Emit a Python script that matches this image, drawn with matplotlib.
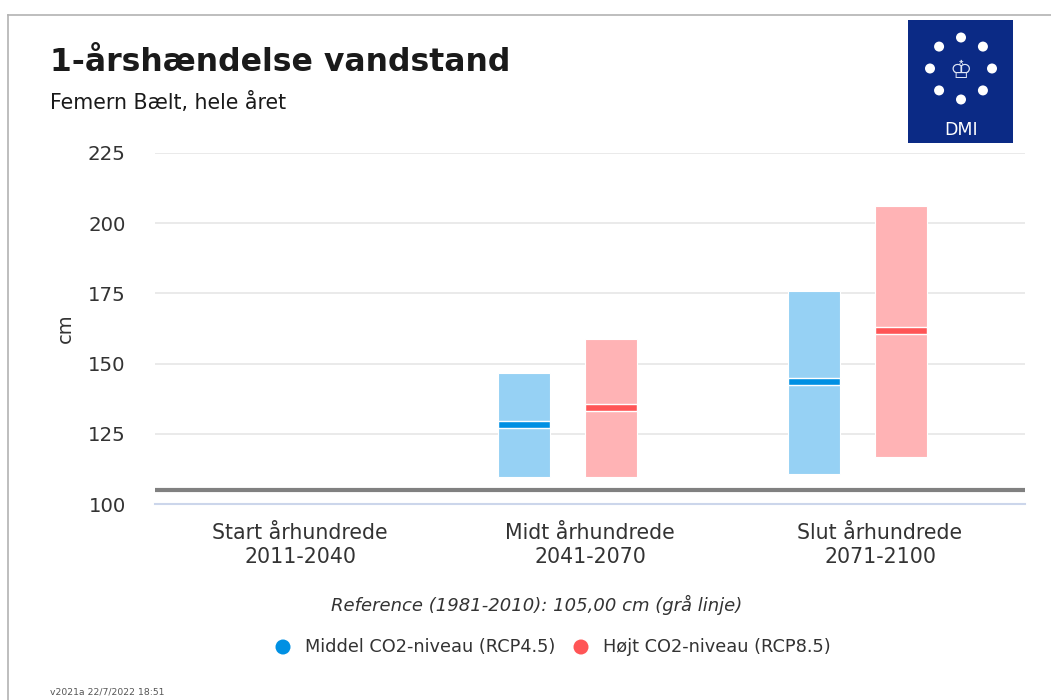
import matplotlib
matplotlib.use("Agg")
import matplotlib.pyplot as plt
import numpy as np
from matplotlib.patches import Rectangle, Circle

plt.rcParams['font.family'] = ['DejaVu Sans']

# ---- data ----
categories = ["Start århundrede\n2011-2040", "Midt århundrede\n2041-2070", "Slut århundrede\n2071-2100"]
rcp45_low = [np.nan, 109.6, 110.7]
rcp45_high = [np.nan, 146.8, 176.0]
rcp45_median = [np.nan, 128.4, 143.6]
rcp85_low = [np.nan, 109.6, 116.8]
rcp85_high = [np.nan, 158.9, 206.0]
rcp85_median = [np.nan, 134.3, 161.8]
reference_level = 105.0
y_ticks = [100, 125, 150, 175, 200, 225]
series_names = ["Middel CO2-niveau (RCP4.5)", "Højt CO2-niveau (RCP8.5)"]

W, H = 1051, 700
fig = plt.figure(figsize=(W / 100, H / 100), dpi=100)
fig.patch.set_facecolor("white")

# overlay in pixel coordinates
ov = fig.add_axes([0, 0, 1, 1], zorder=0)
ov.set_xlim(0, W)
ov.set_ylim(H, 0)
ov.axis("off")

# border
ov.plot([7.5, W], [14.5, 14.5], color="#b3b3b3", lw=1.2)
ov.plot([7.5, 7.5], [14.5, H], color="#b3b3b3", lw=1.2)

# titles
ov.text(50, 71, "1-årshændelse vandstand", fontsize=22.7, fontweight="bold",
        color="#1a1a1a", va="baseline", ha="left")
ov.text(50, 109, "Femern Bælt, hele året", fontsize=14.8, color="#1a1a1a",
        va="baseline", ha="left")

# logo
ov.add_patch(Rectangle((908, 20), 105, 123, facecolor="#0b2a85", edgecolor="none"))
cx, cy, r = 961, 68.5, 31
for k in range(8):
    a = np.pi / 2 + k * np.pi / 4
    ov.add_patch(Circle((cx + r * np.cos(a), cy - r * np.sin(a)), 5,
                        facecolor="white", edgecolor="none"))
ov.text(cx, cy + 2, "♔", fontsize=18, color="#dfe6f5", ha="center", va="center")
ov.text(cx, 130, "DMI", fontsize=12.5, color="white", ha="center", va="center")

# main axes
left, right, top, bottom = 155, 1025, 153, 504
ax = fig.add_axes([left / W, 1 - bottom / H, (right - left) / W, (bottom - top) / H], zorder=1)
ax.set_facecolor("none")
ax.set_xlim(-0.5, 2.5)
ax.set_ylim(100, 225)
ax.set_yticks(y_ticks)
ax.set_yticklabels([str(v) for v in y_ticks], fontsize=14.2, color="#333333")
ax.set_xticks(range(len(categories)))
ax.set_xticklabels(categories, fontsize=14.8, color="#333333", linespacing=1.25)
ax.tick_params(axis="both", length=0)
ax.tick_params(axis="y", pad=21)
ax.tick_params(axis="x", pad=14)
for s in ax.spines.values():
    s.set_visible(False)
for v in y_ticks[1:]:
    ax.axhline(v, color="#e6e6e6", lw=1.2, zorder=0)
ax.axhline(100, color="#ccd6eb", lw=1.5, zorder=1, clip_on=False)
ax.set_ylabel("cm", fontsize=14, color="#333333")
ax.yaxis.set_label_coords(-0.092, 0.5)

x = np.arange(len(categories))
bw = 0.179
off45, off85 = -0.228, 0.072
light45, dark45 = "#96d1f4", "#0090e3"
light85, dark85 = "#ffb3b5", "#ff5556"
lo45 = np.array(rcp45_low); hi45 = np.array(rcp45_high); md45 = np.array(rcp45_median)
lo85 = np.array(rcp85_low); hi85 = np.array(rcp85_high); md85 = np.array(rcp85_median)
ax.bar(x + off45, hi45 - lo45, bottom=lo45, width=bw, color=light45,
       edgecolor="white", lw=0.8, zorder=2)
ax.bar(x + off85, hi85 - lo85, bottom=lo85, width=bw, color=light85,
       edgecolor="white", lw=0.8, zorder=2)
mh = 2.4
ax.bar(x + off45, mh, bottom=md45 - mh / 2, width=bw, color=dark45,
       edgecolor="white", lw=1.0, zorder=3)
ax.bar(x + off85, mh, bottom=md85 - mh / 2, width=bw, color=dark85,
       edgecolor="white", lw=1.0, zorder=3)
ax.axhline(reference_level, color="#808080", lw=3, zorder=4)

# reference note
ov.text(537, 605, "Reference (1981-2010): 105,00 cm (grå linje)", fontsize=13,
        style="italic", color="#333333", ha="center", va="center")

# legend
ov.add_patch(Circle((283, 647), 7.5, facecolor=dark45, edgecolor="none"))
ov.text(305, 647, series_names[0], fontsize=12.8, color="#333333", ha="left", va="center")
ov.add_patch(Circle((581, 647), 7.5, facecolor=dark85, edgecolor="none"))
ov.text(603, 647, series_names[1], fontsize=12.8, color="#333333", ha="left", va="center")

# footer
ov.text(50, 692, "v2021a 22/7/2022 18:51", fontsize=6.7, color="#555555",
        ha="left", va="center")

fig.savefig("out.png", dpi=100, facecolor="white")
